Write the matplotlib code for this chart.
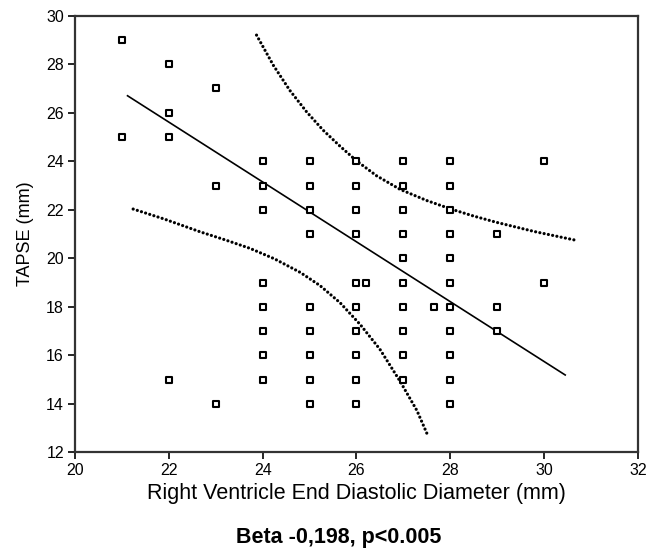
import matplotlib
matplotlib.use("Agg")
import matplotlib.pyplot as plt
import numpy as np

plt.rcParams['font.family'] = ['Liberation Sans', 'DejaVu Sans']

# RVEDD (mm) vs TAPSE (mm), one entry per patient
rvedd = [21, 21,
         22, 22, 22, 22,
         23, 23, 23,
         24, 24, 24, 24, 24, 24, 24, 24,
         25, 25, 25, 25, 25, 25, 25, 25, 25,
         26, 26, 26, 26, 26, 26, 26, 26, 26, 26,
         26.2,
         27, 27, 27, 27, 27, 27, 27, 27, 27, 27,
         27.65,
         28, 28, 28, 28, 28, 28, 28, 28, 28, 28, 28,
         29, 29, 29,
         30, 30]
tapse = [29, 25,
         28, 26, 25, 15,
         27, 23, 14,
         24, 23, 22, 19, 18, 17, 16, 15,
         24, 23, 22, 21, 18, 17, 16, 15, 14,
         24, 23, 22, 21, 19, 18, 17, 16, 15, 14,
         19,
         24, 23, 22, 21, 20, 19, 18, 17, 16, 15,
         18,
         24, 23, 22, 21, 20, 19, 18, 17, 16, 15, 14,
         21, 18, 17,
         24, 19]

# fitted regression line
fit_x = [21.12, 30.45]
fit_y = [26.70, 15.19]

# confidence bands
upper_x = [23.87, 24.23, 24.58, 24.94, 25.29, 25.65, 26.0, 26.43, 26.93, 27.5, 28.03, 28.5, 28.99, 29.8, 30.66]
upper_y = [29.2, 27.95, 26.92, 26.03, 25.28, 24.62, 24.02, 23.40, 22.84, 22.38, 22.02, 21.74, 21.48, 21.1, 20.75]
lower_x = [21.24, 21.9, 22.67, 23.2, 23.73, 24.25, 24.8, 25.22, 25.65, 26.08, 26.5, 26.93, 27.29, 27.52]
lower_y = [22.03, 21.62, 21.09, 20.76, 20.41, 19.98, 19.42, 18.88, 18.17, 17.27, 16.25, 14.93, 13.72, 12.7]

fig = plt.figure(figsize=(6.59, 5.51), dpi=100)
ax = fig.add_axes([0.1138, 0.179, 0.8542, 0.7925])

dots = dict(color='black', lw=2.3, linestyle=(0, (0.01, 1.35)), dash_capstyle='round')
ax.plot(fit_x, fit_y, color='black', lw=1.2)
ax.plot(upper_x, upper_y, **dots)
ax.plot(lower_x, lower_y, **dots)
ax.scatter(rvedd, tapse, marker='s', s=24, facecolors='white', edgecolors='black',
           linewidths=1.5, zorder=3)

ax.set_xlim(20, 32)
ax.set_ylim(12, 30)
ax.set_xticks(np.arange(20, 33, 2))
ax.set_yticks(np.arange(12, 31, 2))
ax.tick_params(direction='out', length=5, width=1.2, labelsize=11.5, colors='black', pad=3)
for s in ax.spines.values():
    s.set_linewidth(1.6)
    s.set_color('#333333')

ax.set_xlabel('Right Ventricle End Diastolic Diameter (mm)', fontsize=15.5, labelpad=3)
ax.set_ylabel('TAPSE (mm)', fontsize=13)
ax.yaxis.set_label_coords(-0.072, 0.5)
fig.text(0.5145, 0.0254, 'Beta -0,198, p<0.005', ha='center', va='center',
         fontsize=15.5, fontweight='bold')

fig.savefig('out.png', dpi=100)
